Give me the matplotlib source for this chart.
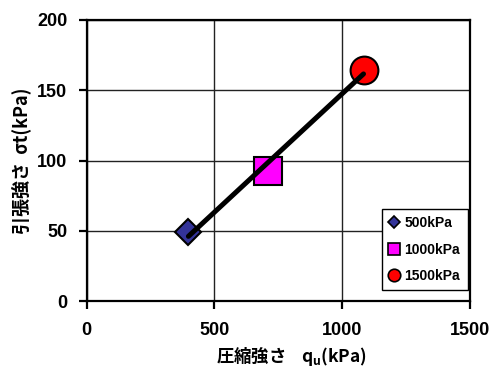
import numpy as np
import matplotlib
matplotlib.use("Agg")
import matplotlib.pyplot as plt

plt.rcParams['font.family'] = ['Liberation Sans', 'Noto Sans CJK JP', 'DejaVu Sans']
plt.rcParams['mathtext.default'] = 'regular'

# data
labels = ['500kPa', '1000kPa', '1500kPa']
qu = [398, 711, 1083]          # compressive strength (kPa)
sigma_t = [49.5, 92.8, 164.2]  # tensile strength (kPa)
x_ticks = [0, 500, 1000, 1500]
y_ticks = [0, 50, 100, 150, 200]

markers = ['D', 's', 'o']
colors = ['#333399', '#FF00FF', '#FF0000']
sizes = [13, 20, 20]
leg_sizes = [6, 9, 9]

fig = plt.figure(figsize=(4.98, 3.69), dpi=100)
ax = fig.add_axes([0.174, 0.183, 0.770, 0.764])

handles = []
for x, y, m, c, s, ls, lab in zip(qu, sigma_t, markers, colors, sizes, leg_sizes, labels):
    ax.plot([x], [y], linestyle='none', marker=m, markersize=s, markerfacecolor=c,
            markeredgecolor='black', markeredgewidth=1.5, zorder=3)
    h, = ax.plot([], [], linestyle='none', marker=m, markersize=ls, markerfacecolor=c,
                 markeredgecolor='black', markeredgewidth=1.2, label=lab)
    handles.append(h)

# linear trend line
k, b = np.polyfit(qu, sigma_t, 1)
xl = np.array([qu[0], qu[-1]])
ax.plot(xl, k * xl + b, color='black', linewidth=3.6, solid_capstyle='round', zorder=4)

ax.set_xlim(0, 1500)
ax.set_ylim(0, 200)
ax.set_xticks(x_ticks)
ax.set_yticks(y_ticks)
ax.grid(True, color='#222222', linewidth=1.0)
ax.set_axisbelow(True)
for sp in ax.spines.values():
    sp.set_linewidth(1.6)
    sp.set_color('black')
ax.tick_params(direction='out', length=6, width=1.6, labelsize=13)
ax.tick_params(axis='x', pad=9)
ax.tick_params(axis='y', pad=8)
for t in ax.get_xticklabels() + ax.get_yticklabels():
    t.set_fontweight('bold')

ax.set_xlabel('圧縮強さ    q$_{u}$(kPa)', fontsize=12.5, fontweight='bold',
              family=['Noto Sans CJK JP', 'DejaVu Sans'], labelpad=4)
ax.xaxis.set_label_coords(0.535, -0.155)
ax.set_ylabel('引張強さ  σt(kPa)', fontsize=13, fontweight='bold',
              family=['Noto Sans CJK JP', 'DejaVu Sans'], labelpad=4)

leg = ax.legend(handles=handles, loc='lower left', bbox_to_anchor=(0.77, 0.04, 0.225, 0.27),
                mode='expand', fancybox=False, framealpha=1, edgecolor='black',
                prop={'weight': 'bold', 'size': 10}, handlelength=0.8, handletextpad=0.3,
                borderpad=0.5, labelspacing=0.9, borderaxespad=0)
leg.get_frame().set_linewidth(1.0)

fig.savefig('out.png', dpi=100)
